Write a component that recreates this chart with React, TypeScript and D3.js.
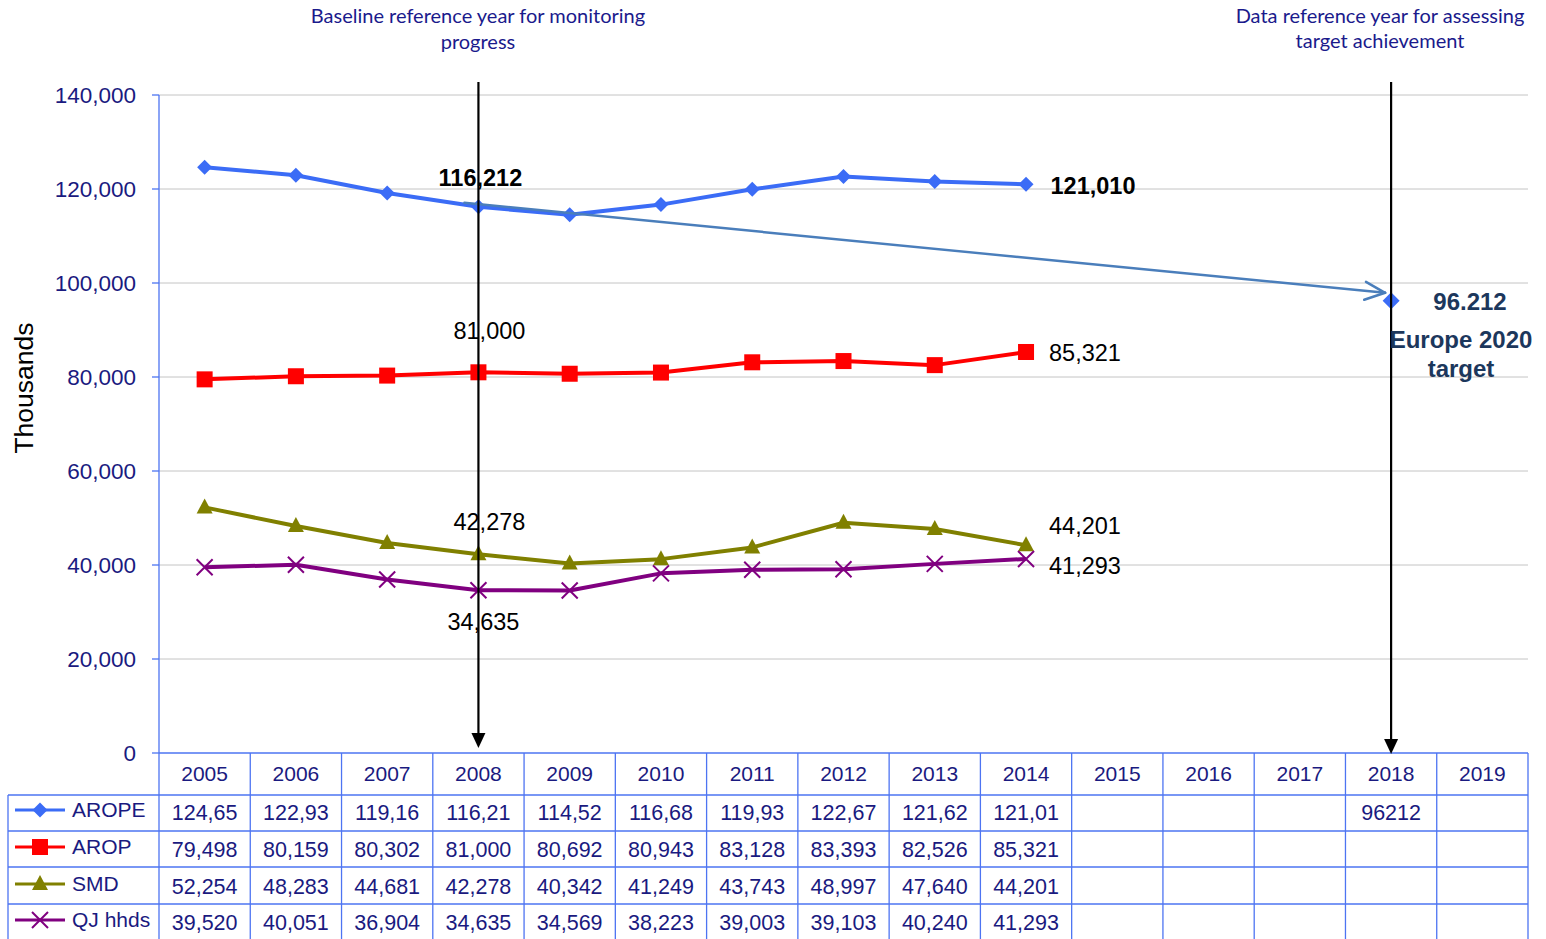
import React from "react";
import * as d3 from "d3";

const years = [2005, 2006, 2007, 2008, 2009, 2010, 2011, 2012, 2013, 2014, 2015, 2016, 2017, 2018, 2019];
const dataYears = [2005, 2006, 2007, 2008, 2009, 2010, 2011, 2012, 2013, 2014];
const arope = [124650, 122930, 119160, 116212, 114520, 116680, 119930, 122670, 121620, 121010];
const arop = [79498, 80159, 80302, 81000, 80692, 80943, 83128, 83393, 82526, 85321];
const smd = [52254, 48283, 44681, 42278, 40342, 41249, 43743, 48997, 47640, 44201];
const qj = [39520, 40051, 36904, 34635, 34569, 38223, 39003, 39103, 40240, 41293];
const targetYear = 2018;
const targetValue = 96212;
const baselineYear = 2008;
const yTicks = [0, 20000, 40000, 60000, 80000, 100000, 120000, 140000];

const W = 1546, H = 939;
const X0 = 159, X1 = 1528, Y0 = 753, Y1 = 95;
const NAVY = "#1a1a80";
const TBL = "#4d74f2";

const x = d3.scaleBand<number>().domain(years).range([X0, X1]).padding(0);
const cx = (yr: number) => (x(yr) as number) + x.bandwidth() / 2;
const y = d3.scaleLinear().domain([0, 140000]).range([Y0, Y1]);

const fmt = d3.format(",");
const fmtArope = (v: number) => (Math.floor(v / 10) / 100).toFixed(2).replace(".", ",");

type Series = { name: string; values: number[]; color: string; marker: string; tableFmt: (v: number) => string };
const series: Series[] = [
  { name: "AROPE", values: arope, color: "#3b6cf6", marker: "diamond", tableFmt: fmtArope },
  { name: "AROP", values: arop, color: "#ff0000", marker: "square", tableFmt: fmt },
  { name: "SMD", values: smd, color: "#808000", marker: "triangle", tableFmt: fmt },
  { name: "QJ hhds", values: qj, color: "#800080", marker: "x", tableFmt: fmt },
];

function Marker({ type, px, py, color, s0 }: { type: string; px: number; py: number; color: string; s0?: number }) {
  if (type === "diamond") {
    const s = s0 || 7.5;
    return <path d={`M${px},${py - s}L${px + s},${py}L${px},${py + s}L${px - s},${py}Z`} fill={color} />;
  }
  if (type === "square") {
    const s = 8;
    return <rect x={px - s} y={py - s} width={2 * s} height={2 * s} fill={color} />;
  }
  if (type === "triangle") {
    return <path d={`M${px},${py - 9}L${px + 8},${py + 6}L${px - 8},${py + 6}Z`} fill={color} />;
  }
  const s = 8;
  return (
    <path d={`M${px - s},${py - s}L${px + s},${py + s}M${px - s},${py + s}L${px + s},${py - s}`} stroke={color} strokeWidth={2} />
  );
}

export default function App() {
  const line = d3.line<number>().x((_, i) => cx(dataYears[i])).y((v) => y(v));
  const rowLines = [795, 831, 867, 904];
  const rowCenters = [812, 849, 886, 922];
  const bx = cx(baselineYear);
  const tx = cx(targetYear);

  // trend arrow
  const ax0 = bx - 14, ay0 = y(arope[3]) - 4;
  const ax1 = tx - 6, ay1 = y(targetValue) - 8;
  const ang = Math.atan2(ay1 - ay0, ax1 - ax0);
  const hl = 22, ha = 0.42;
  const h1x = ax1 - hl * Math.cos(ang - ha), h1y = ay1 - hl * Math.sin(ang - ha);
  const h2x = ax1 - hl * Math.cos(ang + ha), h2y = ay1 - hl * Math.sin(ang + ha);

  return (
    <div style={{ position: "absolute", left: 0, top: 0 }}>
      <svg width={W} height={H} style={{ display: "block", fontFamily: "'Liberation Sans', Arial, sans-serif" }}>
        <rect x={0} y={0} width={W} height={H} fill="#ffffff" />
        {/* gridlines */}
        {yTicks.filter((t) => t > 0).map((t) => (
          <line key={t} x1={X0} x2={X1} y1={y(t)} y2={y(t)} stroke="#c4c4c4" strokeWidth={1} />
        ))}
        {/* y axis */}
        <line x1={X0} x2={X0} y1={Y1} y2={H} stroke={TBL} strokeWidth={1.3} />
        {yTicks.map((t) => (
          <g key={t}>
            <line x1={X0 - 7} x2={X0} y1={y(t)} y2={y(t)} stroke={TBL} strokeWidth={1.3} />
            <text x={136} y={y(t)} dy="0.35em" textAnchor="end" fontSize={22.5} fill={NAVY}>
              {fmt(t)}
            </text>
          </g>
        ))}
        <text transform={`translate(33,388) rotate(-90)`} textAnchor="middle" fontSize={26.5} fill="#000">
          Thousands
        </text>

        {/* table */}
        <line x1={X0} x2={X1} y1={Y0} y2={Y0} stroke={TBL} strokeWidth={1.3} />
        {rowLines.map((ry) => (
          <line key={ry} x1={8} x2={X1} y1={ry} y2={ry} stroke={TBL} strokeWidth={1.3} />
        ))}
        <line x1={8} x2={8} y1={795} y2={H} stroke={TBL} strokeWidth={1.3} />
        {years.map((yr) => (
          <line key={yr} x1={(x(yr) as number) + x.bandwidth()} x2={(x(yr) as number) + x.bandwidth()} y1={Y0} y2={H} stroke={TBL} strokeWidth={1.3} />
        ))}
        {years.map((yr) => (
          <text key={yr} x={cx(yr)} y={774} dy="0.35em" textAnchor="middle" fontSize={21} fill={NAVY}>
            {yr}
          </text>
        ))}
        {series.map((s, si) => (
          <g key={s.name}>
            <line x1={15} x2={65} y1={rowCenters[si] - 2} y2={rowCenters[si] - 2} stroke={s.color} strokeWidth={3} />
            <Marker type={s.marker} px={40} py={rowCenters[si] - 2} color={s.color} />
            <text x={72} y={rowCenters[si] - 2} dy="0.35em" fontSize={21} fill={NAVY}>
              {s.name}
            </text>
            {s.values.map((v, i) => (
              <text key={i} x={cx(dataYears[i])} y={rowCenters[si]} dy="0.35em" textAnchor="middle" fontSize={21.5} fill={NAVY}>
                {s.tableFmt(v)}
              </text>
            ))}
          </g>
        ))}
        <text x={tx} y={rowCenters[0]} dy="0.35em" textAnchor="middle" fontSize={21.5} fill={NAVY}>
          {String(targetValue)}
        </text>

        {/* series lines */}
        {series.map((s) => (
          <g key={s.name}>
            <path d={line(s.values) as string} fill="none" stroke={s.color} strokeWidth={4} strokeLinejoin="round" />
            {s.values.map((v, i) => (
              <Marker key={i} type={s.marker} px={cx(dataYears[i])} py={y(v)} color={s.color} />
            ))}
          </g>
        ))}

        {/* trend arrow */}
        <g stroke="#4a7ebb" strokeWidth={2.5} fill="none" strokeLinecap="round">
          <line x1={ax0} y1={ay0} x2={ax1} y2={ay1} />
          <line x1={ax1} y1={ay1} x2={h1x} y2={h1y} />
          <line x1={ax1} y1={ay1} x2={h2x} y2={h2y} />
        </g>
        <Marker type="diamond" px={tx} py={y(targetValue)} color="#3b6cf6" s0={8.5} />

        {/* vertical black arrows */}
        <line x1={bx} x2={bx} y1={82} y2={735} stroke="#000" strokeWidth={2.2} />
        <path d={`M${bx - 7},${733}L${bx + 7},${733}L${bx},${748}Z`} fill="#000" />
        <line x1={tx} x2={tx} y1={82} y2={740} stroke="#000" strokeWidth={2.2} />
        <path d={`M${tx - 7},${739}L${tx + 7},${739}L${tx},${754}Z`} fill="#000" />

        {/* data labels */}
        <g fontSize={23.5} fill="#000">
          <text x={bx + 2} y={178} dy="0.35em" textAnchor="middle" fontWeight="bold">{fmt(arope[3])}</text>
          <text x={1093} y={186} dy="0.35em" textAnchor="middle" fontWeight="bold">{fmt(arope[9])}</text>
          <text x={bx + 11} y={331} dy="0.35em" textAnchor="middle">{fmt(arop[3])}</text>
          <text x={1085} y={353} dy="0.35em" textAnchor="middle">{fmt(arop[9])}</text>
          <text x={bx + 11} y={522} dy="0.35em" textAnchor="middle">{fmt(smd[3])}</text>
          <text x={1085} y={526} dy="0.35em" textAnchor="middle">{fmt(smd[9])}</text>
          <text x={bx + 5} y={622} dy="0.35em" textAnchor="middle">{fmt(qj[3])}</text>
          <text x={1085} y={566} dy="0.35em" textAnchor="middle">{fmt(qj[9])}</text>
        </g>
        <g fontSize={24} fontWeight="bold" fill="#1c375c" textAnchor="middle">
          <text x={1470} y={302} dy="0.35em">{"96.212"}</text>
          <text x={1461} y={340} dy="0.35em">Europe 2020</text>
          <text x={1461} y={369} dy="0.35em">target</text>
        </g>

        {/* annotations */}
        <g fontFamily="Lato, 'Open Sans', sans-serif" fontSize={20} fill="#1a1a8c" textAnchor="middle">
          <text x={478} y={16} dy="0.35em">Baseline reference year for monitoring</text>
          <text x={478} y={42} dy="0.35em">progress</text>
          <text x={1380} y={16} dy="0.35em">Data reference year for assessing</text>
          <text x={1380} y={41} dy="0.35em">target achievement</text>
        </g>
      </svg>
    </div>
  );
}
